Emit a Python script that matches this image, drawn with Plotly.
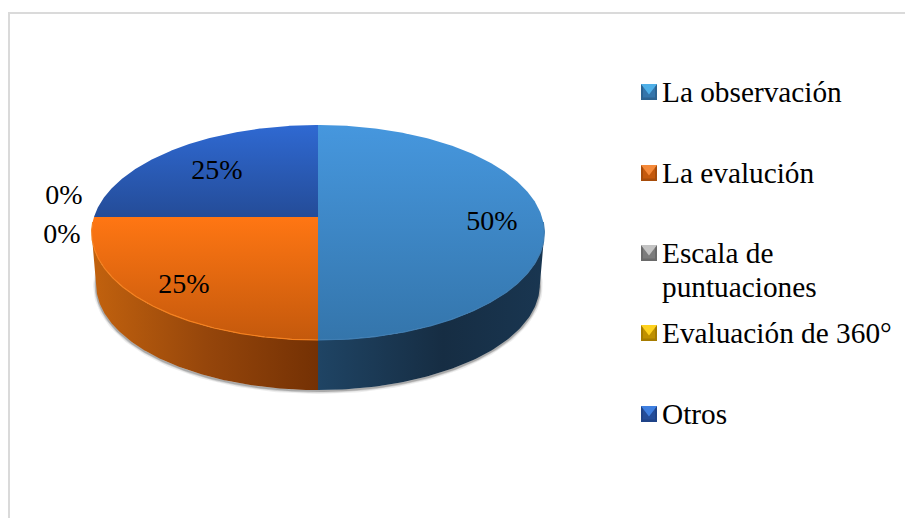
import numpy as np
import plotly.graph_objects as go

# ---- data ----
categories = ["La observación", "La evalución", "Escala de<br>puntuaciones", "Evaluación de 360°", "Otros"]
values = [50, 25, 0, 0, 25]
percent_labels = ["50%", "25%", "0%", "0%", "25%"]

# ---- styles ----
top_colors = [("#4697DE", "#3475AB"), ("#FF7613", "#C4590C"), ("#A5A5A5", "#7C7C7C"),
              ("#FFC000", "#BF9000"), ("#2F69D2", "#244C98")]
wall_colors = [[(0, "#1F4464"), (0.55, "#162D43"), (1, "#193651")],
               [(0, "#C2620E"), (0.5, "#96460B"), (1, "#743104")],
               [(0, "#888888"), (1, "#555555")], [(0, "#BF9000"), (1, "#7F6000")],
               [(0, "#244C98"), (1, "#183366")]]
rim_colors = ["#3F7DB2", "#F5811F", "#BBBBBB", "#FFD040", "#4F80D8"]
swatch_light = ["#4FB0E8", "#F58A3A", "#C4C4C4", "#FFD21F", "#3F7FE0"]
swatch_dark = ["#2C6391", "#A64C0A", "#6A6A6A", "#A67C00", "#1F4388"]

# ---- layout constants (pixels of the 905x518 page) ----
W, H = 905, 518
CX, CY = 318, 217        # apex of the slices on the top face
A, B, K = 224, 105.3, 0.144   # perspective of the disc
DEPTH, SHRINK = 52.5, 0.98
LABEL_X = [492, 184, 62, 64, 217]
LABEL_Y = [223, 286, 236, 197, 172]
LEG_X, LEG_TX = 649, 662
LEG_LINE_Y = [[92], [173], [253, 287], [333], [414]]
SWATCH_Y = [92, 173, 253, 333, 414]
FONT = "Liberation Serif"
FS_LABEL = 28
FS_LEGEND = 29.3


def project(theta, lower=False):
    u, v = np.cos(theta), np.sin(theta)
    d = 1 + K * v
    s = SHRINK if lower else 1.0
    return CX + s * A * u / d, CY + (DEPTH if lower else 0) - s * B * v / d


fig = go.Figure()
total = sum(values)
starts = 90 - 360 * np.concatenate([[0], np.cumsum(values)[:-1]]) / total
limit = np.arcsin(K)

# soft shadow under the wall
arc = np.linspace(np.pi + limit - 0.12, 2 * np.pi - limit + 0.12, 200)
sx, sy = project(arc, True)
for width, alpha in [(6, 0.07), (3.5, 0.12), (2, 0.18)]:
    fig.add_trace(go.Scatter(x=sx, y=sy + 1, mode="lines", hoverinfo="skip", showlegend=False,
                             line=dict(color=f"rgba(0,0,0,{alpha})", width=width)))

# walls
for i, val in enumerate(values):
    if not val:
        continue
    t0 = np.radians(starts[i])
    t1 = t0 - 2 * np.pi * val / total
    th = np.linspace(t0, t1, 200)
    th = th[np.sin(th) <= -K]
    if len(th) < 2:
        continue
    xa, ya = project(th)
    xb, yb = project(th, True)
    xs = np.concatenate([xa, xb[::-1]])
    ys = np.concatenate([ya, yb[::-1]])
    fig.add_trace(go.Scatter(x=xs, y=ys, mode="lines", fill="toself", showlegend=False, hoverinfo="skip",
                             line=dict(width=0),
                             fillgradient=dict(type="horizontal", colorscale=wall_colors[i],
                                               start=float(xs.min()), stop=float(xs.max()))))

# top faces
for i, val in enumerate(values):
    if not val:
        continue
    t0 = np.radians(starts[i])
    t1 = t0 - 2 * np.pi * val / total
    th = np.linspace(t0, t1, 300)
    xa, ya = project(th)
    xs = np.concatenate([[CX], xa, [CX]])
    ys = np.concatenate([[CY], ya, [CY]])
    fig.add_trace(go.Scatter(x=xs, y=ys, mode="lines", fill="toself", name=categories[i],
                             showlegend=False, hoverinfo="skip", line=dict(width=0),
                             fillgradient=dict(type="vertical",
                                               colorscale=[(0, top_colors[i][0]), (1, top_colors[i][1])],
                                               start=float(ys.min()), stop=float(ys.max()))))
    front = th[np.sin(th) <= -K * 0.3]
    if len(front) > 1:
        fx, fy = project(front)
        fig.add_trace(go.Scatter(x=fx, y=fy, mode="lines", showlegend=False, hoverinfo="skip",
                                 line=dict(color=rim_colors[i], width=1.2)))

# percentage labels
fig.add_trace(go.Scatter(x=LABEL_X, y=LABEL_Y, mode="text", text=percent_labels, showlegend=False,
                         hoverinfo="skip", textposition="middle center",
                         textfont=dict(family=FONT, size=FS_LABEL, color="#000000")))

# legend swatches and texts
for i, name in enumerate(categories):
    fig.add_trace(go.Scatter(x=[LEG_X], y=[SWATCH_Y[i]], mode="markers", showlegend=False, hoverinfo="skip",
                             marker=dict(symbol="square", size=16, color=swatch_dark[i], line=dict(width=0))))
    fig.add_trace(go.Scatter(x=[LEG_X], y=[SWATCH_Y[i] - 0.5], mode="markers", showlegend=False, hoverinfo="skip",
                             marker=dict(symbol="square", size=12, color=top_colors[i][1], line=dict(width=0))))
    fig.add_trace(go.Scatter(x=[LEG_X], y=[SWATCH_Y[i] - 4.5], mode="markers", showlegend=False, hoverinfo="skip",
                             marker=dict(symbol="triangle-down", size=14, color=swatch_light[i], line=dict(width=0))))
    for line, ly in zip(name.split("<br>"), LEG_LINE_Y[i]):
        fig.add_annotation(x=LEG_TX, y=ly, text=line, showarrow=False, xanchor="left", yanchor="middle",
                           align="left", xref="x", yref="y", xshift=-2,
                           font=dict(family=FONT, size=FS_LEGEND, color="#000000"))

fig.update_layout(
    width=W, height=H, autosize=False, margin=dict(l=0, r=0, t=0, b=0),
    paper_bgcolor="#FFFFFF", plot_bgcolor="#FFFFFF", showlegend=False,
    xaxis=dict(range=[0, W], visible=False, fixedrange=True),
    yaxis=dict(range=[H, 0], visible=False, fixedrange=True),
    shapes=[dict(type="line", x0=9, x1=9, y0=12, y1=H, line=dict(color="#DADADA", width=2)),
            dict(type="line", x0=8, x1=W, y0=13, y1=13, line=dict(color="#DADADA", width=2))],
)
fig.write_html("out.html", config=dict(displayModeBar=False),
               post_script="document.body.style.margin='0';document.body.style.overflow='hidden';")
